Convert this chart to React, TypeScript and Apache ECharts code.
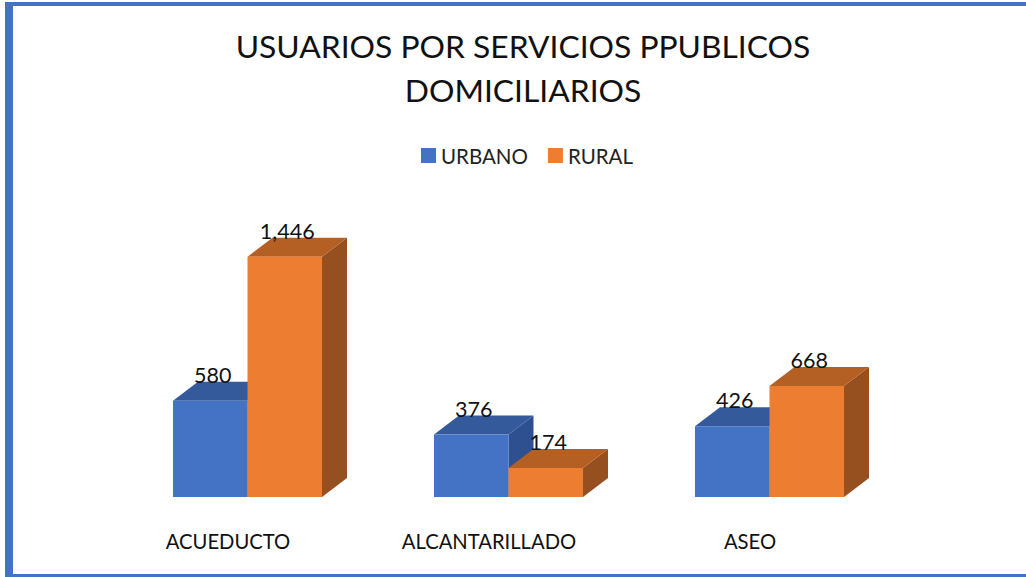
import React, { useEffect, useRef } from "react";
import * as echarts from "echarts";

const categories = ["ACUEDUCTO", "ALCANTARILLADO", "ASEO"];
const urbano = [580, 376, 426];
const rural = [1446, 174, 668];

const FONT = "Lato";
const BLUE = { front: "#4472C4", top: "#355A9C", side: "#2F5090" };
const ORANGE = { front: "#ED7D31", top: "#B46025", side: "#964F1E" };

function bar3d(shade: { front: string; top: string; side: string }, side: -1 | 1) {
  return (_params: any, api: any) => {
    const cat = api.value(0);
    const value = api.value(1);
    const [cx, yTop] = api.coord([cat, value]);
    const [, yBase] = api.coord([cat, 0]);
    const w = api.size([1, 0])[0] * 0.2855;
    const x0 = side < 0 ? cx - w : cx;
    const x1 = x0 + w;
    const dx = 25;
    const dy = 19;
    return {
      type: "group",
      children: [
        {
          type: "polygon",
          shape: { points: [[x1, yTop], [x1 + dx, yTop - dy], [x1 + dx, yBase - dy], [x1, yBase]] },
          style: { fill: shade.side },
        },
        {
          type: "polygon",
          shape: { points: [[x0, yTop], [x0 + dx, yTop - dy], [x1 + dx, yTop - dy], [x1, yTop]] },
          style: { fill: shade.top },
        },
        {
          type: "rect",
          shape: { x: x0, y: yTop, width: w, height: yBase - yTop },
          style: { fill: shade.front },
        },
        {
          type: "text",
          z2: 100,
          style: {
            x: (x0 + x1) / 2 + 2.5,
            y: yTop - 26,
            text: value.toLocaleString("en-US"),
            fontFamily: FONT,
            fontSize: 21.5,
            fill: "#111111",
            align: "center",
            verticalAlign: "middle",
          },
        },
      ],
    };
  };
}

export default function App() {
  const ref = useRef<HTMLDivElement>(null);
  useEffect(() => {
    const chart = echarts.init(ref.current!, undefined, { renderer: "svg" });
    chart.setOption({
      animation: false,
      backgroundColor: "#ffffff",
      title: {
        text: "USUARIOS POR SERVICIOS PPUBLICOS\nDOMICILIARIOS",
        left: 518,
        top: 19,
        textAlign: "center",
        textStyle: {
          fontFamily: FONT,
          fontWeight: "normal",
          fontSize: 31.8,
          lineHeight: 44,
          color: "#111111",
        },
      },
      legend: {
        left: 416,
        top: 140,
        icon: "rect",
        itemWidth: 15,
        itemHeight: 15,
        itemGap: 20,
        textStyle: { fontFamily: FONT, fontSize: 20.5, color: "#222222" },
        data: ["URBANO", "RURAL"],
      },
      grid: { left: 117, width: 783, top: 198, height: 299 },
      xAxis: {
        type: "category",
        data: categories,
        axisLine: { show: false },
        axisTick: { show: false },
        axisLabel: {
          margin: 34,
          fontFamily: FONT,
          fontSize: 20.2,
          color: "#111111",
          padding: [0, 39, 0, 0],
          interval: 0,
        },
      },
      yAxis: { type: "value", min: 0, max: 1800, show: false },
      graphic: [
        { type: "rect", shape: { x: 5, y: 2, width: 8, height: 575 }, style: { fill: "#4472C4" }, z: 10 },
        { type: "rect", shape: { x: 5, y: 2, width: 1021, height: 4 }, style: { fill: "#4472C4" }, z: 10 },
        { type: "rect", shape: { x: 5, y: 574, width: 1021, height: 3 }, style: { fill: "#4472C4" }, z: 10 },
      ],
      series: [
        {
          type: "custom",
          name: "URBANO",
          itemStyle: { color: BLUE.front },
          renderItem: bar3d(BLUE, -1),
          encode: { x: 0, y: 1 },
          data: urbano.map((v, i) => [i, v]),
        },
        {
          type: "custom",
          name: "RURAL",
          itemStyle: { color: ORANGE.front },
          renderItem: bar3d(ORANGE, 1),
          encode: { x: 0, y: 1 },
          data: rural.map((v, i) => [i, v]),
        },
      ],
    });
    return () => chart.dispose();
  }, []);
  return <div ref={ref} style={{ position: "fixed", left: 0, top: 0, width: 1026, height: 577 }} />;
}
